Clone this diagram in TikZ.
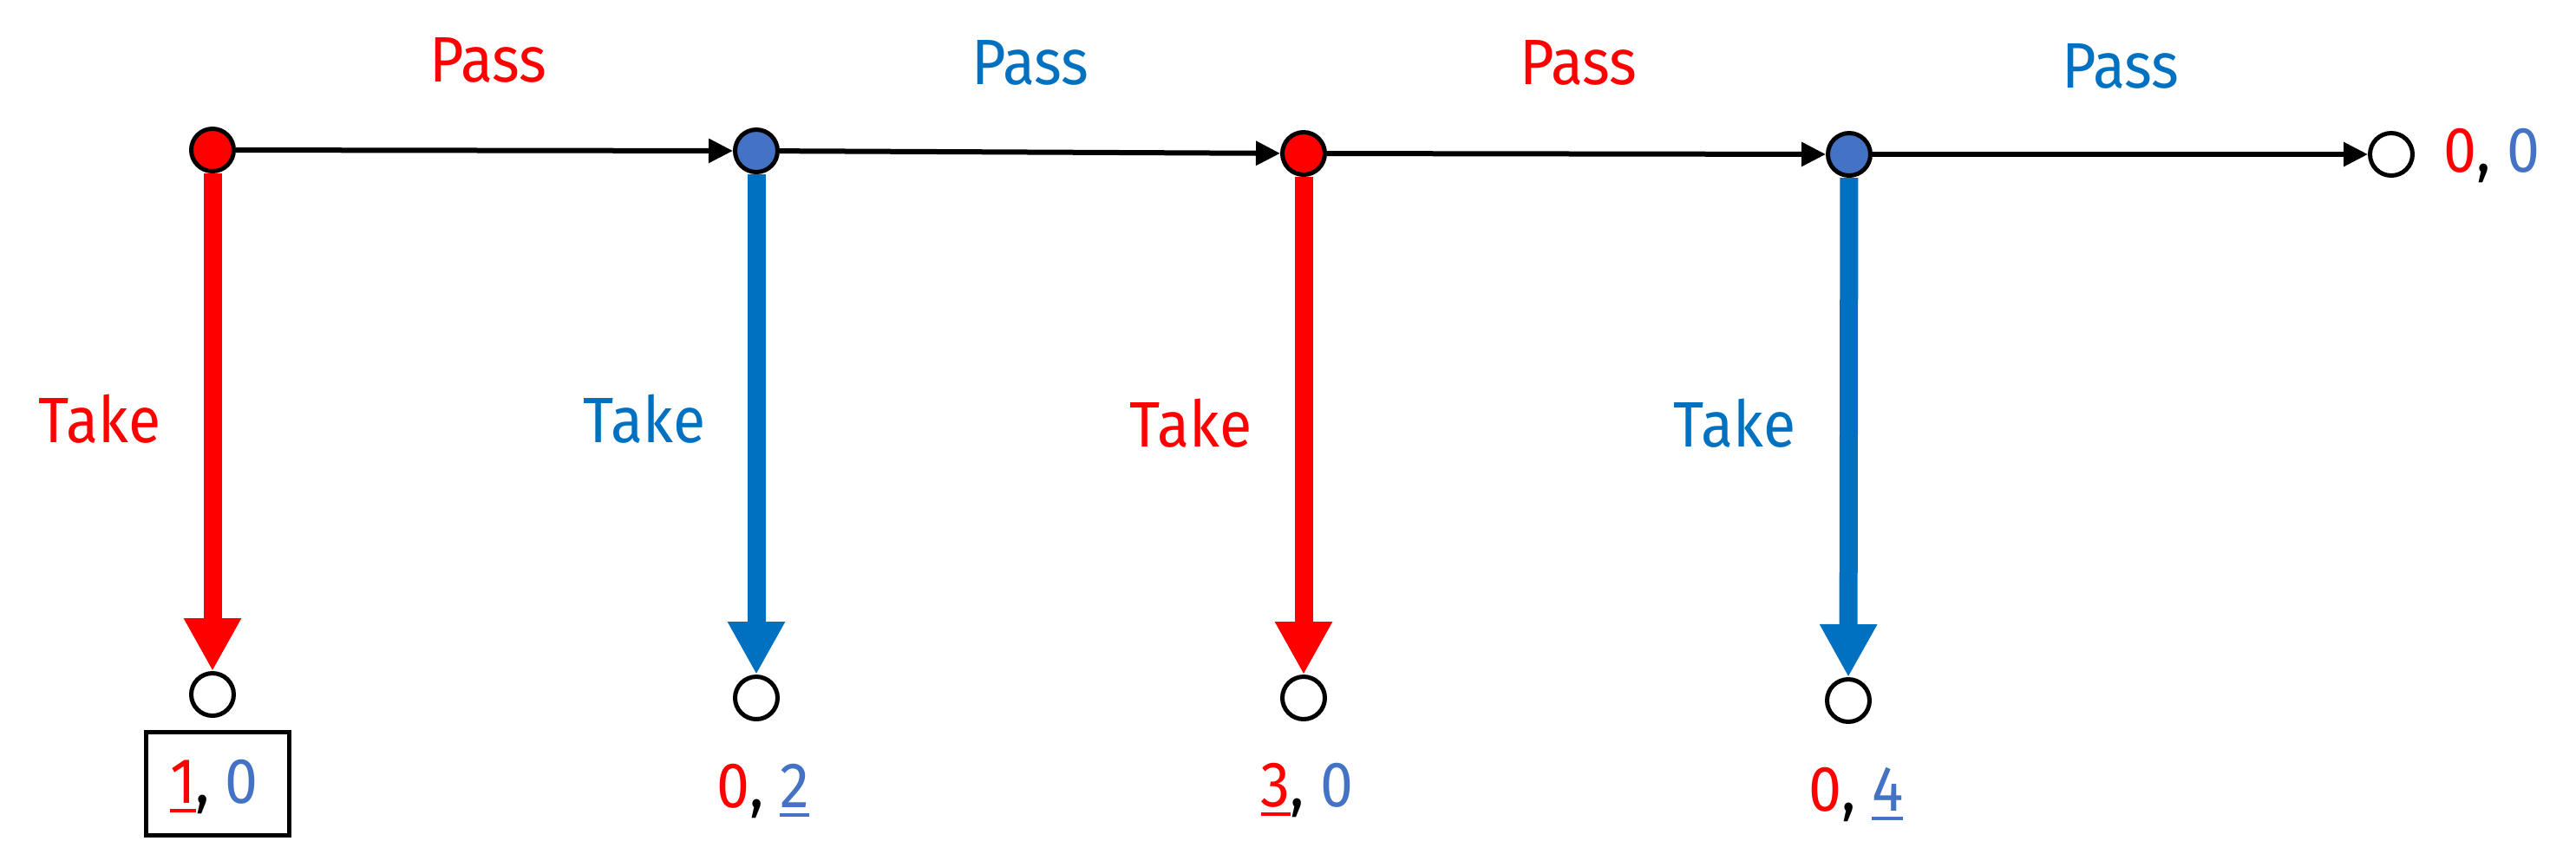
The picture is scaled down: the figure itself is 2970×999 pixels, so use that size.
\documentclass[tikz,border=0pt]{standalone}
\usepackage{fontspec}
\setmainfont{Fira Sans}[FakeStretch=0.92]
\usetikzlibrary{arrows.meta,backgrounds}
\definecolor{pred}{HTML}{FF0000}
\definecolor{tblue}{HTML}{0070C0}
\definecolor{nblue}{HTML}{4472C4}
\newcommand\ulnum[1]{\setbox0\hbox{#1}\rlap{\rule[-2.75pt]{\wd0}{1pt}}\box0}
\begin{document}
\begin{tikzpicture}[x=0.25pt,y=-0.25pt,
  dec/.style={circle,draw=black,line width=1.25pt,minimum size=12.25pt,inner sep=0pt},
  term/.style={circle,draw=black,line width=1.25pt,fill=white,minimum size=12.25pt,inner sep=0pt},
  lbl/.style={anchor=base,inner sep=0pt,font=\fontsize{18.5pt}{22pt}\selectfont},
  passarrow/.style={line width=1.5pt,-{Triangle[length=7pt,width=6.75pt]}},
  takearrow/.style={line width=5.25pt,-{Triangle[length=15.25pt,width=15.5pt]}},
  boxed/.style={draw=black,line width=1.25pt,minimum width=41.25pt,minimum height=29.75pt,inner sep=0pt}]
\useasboundingbox (0,0) rectangle (2970,999);
% decision nodes
\node[dec,fill=pred]  (d1) at (245,173) {};
\node[dec,fill=nblue] (d2) at (872,174) {};
\node[dec,fill=pred]  (d3) at (1503,177) {};
\node[dec,fill=nblue] (d4) at (2132,178) {};
\node[term] (e)  at (2757,178) {};
% terminal nodes
\node[term] (t1) at (245,801) {};
\node[term] (t2) at (872,805) {};
\node[term] (t3) at (1503,805) {};
\node[term] (t4) at (2131,808) {};
% connectors
\begin{scope}[on background layer]
\draw[passarrow] (d1) -- (d2);
\draw[passarrow] (d2) -- (d3);
\draw[passarrow] (d3) -- (d4);
\draw[passarrow] (d4) -- (e);
\draw[takearrow,pred]  (d1) -- (t1);
\draw[takearrow,tblue] (d2) -- (t2);
\draw[takearrow,pred]  (d3) -- (t3);
\draw[takearrow,tblue] (d4) -- (t4);
\end{scope}
% labels
\node[lbl,text=pred]  (p1) at (563,94)  {Pass};
\node[lbl,text=tblue] (p2) at (1188,97) {Pass};
\node[lbl,text=pred]  (p3) at (1820,97) {Pass};
\node[lbl,text=tblue] (p4) at (2445,101) {Pass};
\node[lbl,text=pred]  (k1) at (115,510) {Take};
\node[lbl,text=tblue] (k2) at (743,510) {Take};
\node[lbl,text=pred]  (k3) at (1373,515) {Take};
\node[lbl,text=tblue] (k4) at (2000,515) {Take};
% payoffs
\node[boxed] (bx) at (251,904) {};
\node[lbl] (o1) at (247,926) {{\color{pred}\ulnum{1}}, {\color{nblue}0}};
\node[lbl] (o2) at (880,931) {{\color{pred}0}, {\color{nblue}\ulnum{2}}};
\node[lbl] (o3) at (1507,930) {{\color{pred}\ulnum{3}}, {\color{nblue}0}};
\node[lbl] (o4) at (2140,935) {{\color{pred}0}, {\color{nblue}\ulnum{4}}};
\node[lbl,anchor=base west] (o5) at (2817,198) {{\color{pred}0}, {\color{nblue}0}};
\end{tikzpicture}
\end{document}
